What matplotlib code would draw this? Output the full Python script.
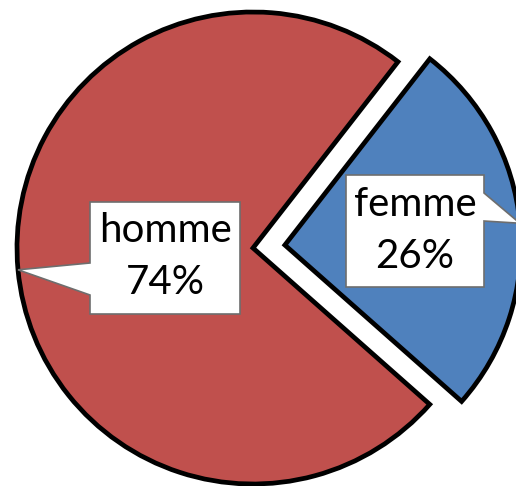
import math
import matplotlib.pyplot as plt
from matplotlib.patches import Polygon

labels = ['homme', 'femme']
shares = [74, 26]
colors = ['#C0504D', '#4F81BD']

W, H = 516, 486
fig = plt.figure(figsize=(W / 100, H / 100), dpi=100)
ax = fig.add_axes([0, 0, 1, 1])

# pie in pixel units (y up)
cx, cy, r = 253, H - 248, 236
start = 52.1
expl = [0, 32]
wedges, _ = ax.pie(shares, colors=colors, startangle=start, radius=r,
                   center=(cx, cy), explode=expl, counterclock=True,
                   wedgeprops=dict(edgecolor='black', linewidth=3.4,
                                   joinstyle='miter'))
ax.set_xlim(0, W)
ax.set_ylim(0, H)
ax.set_aspect('equal')
ax.axis('off')

# callout boxes: (left, top, right, bottom) in image px, side of pointer, pointer base ys
boxes = [(90, 202, 240, 314, 'left', (263, 295)),
         (346, 175, 484, 287, 'right', (193, 221))]

for w, lab, pct, (x0, y0, x1, y1, side, (b0, b1)) in zip(wedges, labels, shares, boxes):
    tm = math.radians((w.theta1 + w.theta2) / 2)
    wx, wy = w.center
    tip = (wx + w.r * math.cos(tm), wy + w.r * math.sin(tm))
    if side == 'left':
        pts = [(x0, H - y0), (x1, H - y0), (x1, H - y1), (x0, H - y1),
               (x0, H - b1), tip, (x0, H - b0)]
    else:
        pts = [(x0, H - y0), (x1, H - y0), (x1, H - b0), tip, (x1, H - b1),
               (x1, H - y1), (x0, H - y1)]
    ax.add_patch(Polygon(pts, closed=True, facecolor='white',
                         edgecolor='#6e6e6e', linewidth=1.2, zorder=5,
                         clip_on=False))
    ax.text((x0 + x1) / 2, H - (y0 + y1) / 2 + 1, f'{lab}\n{pct}%',
            ha='center', va='center', fontsize=29, family='Lato',
            linespacing=1.5, zorder=6)

fig.savefig('out.png', dpi=100)
